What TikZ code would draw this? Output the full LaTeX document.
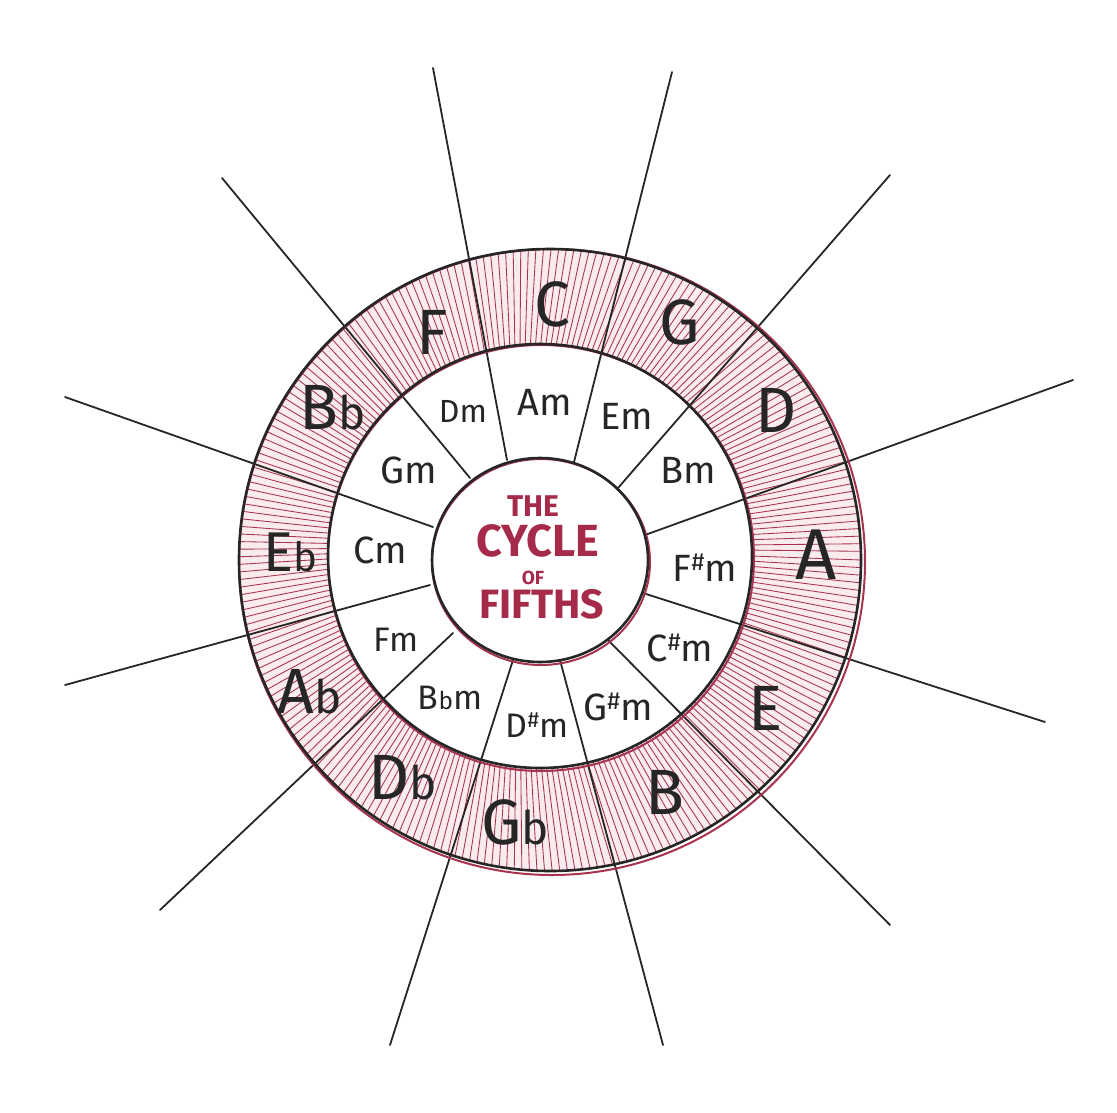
\documentclass[tikz,border=0pt]{standalone}
\usepackage{fontspec}
\setmainfont{Fira Sans}
\definecolor{hatch}{HTML}{A8334F}
\definecolor{ink}{HTML}{262626}
\definecolor{titlered}{HTML}{A62A4A}
\definecolor{ringbg}{HTML}{F9EBEE}
\newcommand\myflat{\scalebox{0.72}{b}}
\newcommand\mysharp{\raisebox{0.28em}{\scalebox{0.65}{\#}}}
\tikzset{
  outerlbl/.style={font=\fontsize{64}{64}\selectfont, text=ink, inner sep=0pt},
  innerlbl/.style={font=\fontsize{38}{38}\selectfont, text=ink, inner sep=0pt},
  titlelbl/.style={text=titlered, inner sep=0pt},
  spoke/.style={draw=ink, line width=1.8pt, line cap=round},
  ringline/.style={draw=ink, line width=2.6pt},
  ringred/.style={draw=hatch, line width=2pt},
}
\begin{document}
\begin{tikzpicture}[x=1pt,y=-1pt]
\useasboundingbox (0,0) rectangle (1117,1112);
% ring background
\fill[ringbg,even odd rule] (550,560) circle (311) (540,556) circle (212);
% hatching
\foreach \a in {0,1.4,...,359.5} {
  \draw[hatch, line width=0.85pt] ([shift={(540,556)}]\a:212) -- ([shift={(550,560)}]\a:311);
}
% spokes: inner ends and outer ends
\coordinate (i1) at (507,460);  \coordinate (o1) at (433,68);
\coordinate (i2) at (572,470);  \coordinate (o2) at (672,72);
\coordinate (i3) at (618,488);  \coordinate (o3) at (890,175);
\coordinate (i4) at (645,535);  \coordinate (o4) at (1073,380);
\coordinate (i5) at (643,593);  \coordinate (o5) at (1045,722);
\coordinate (i6) at (608,640);  \coordinate (o6) at (890,925);
\coordinate (i7) at (560,660);  \coordinate (o7) at (663,1045);
\coordinate (i8) at (513,660);  \coordinate (o8) at (390,1045);
\coordinate (i9) at (453,633);  \coordinate (o9) at (160,910);
\coordinate (i10) at (430,585); \coordinate (o10) at (65,685);
\coordinate (i11) at (433,527); \coordinate (o11) at (65,397);
\coordinate (i12) at (470,478); \coordinate (o12) at (222,178);
\foreach \k in {1,...,12} { \draw[spoke] (i\k) -- (o\k); }
% circles
\draw[ringred] (552,562) circle (313);
\draw[ringline] (550,560) circle (311);
\draw[ringred] (541,558) circle (213);
\draw[ringline] (540,556) circle (212);
\fill[white] (540,560) ellipse (108 and 102);
\draw[ringred] (541,562) ellipse (109 and 103);
\draw[ringline] (540,560) ellipse (108 and 102);
% outer labels
\node[outerlbl] (C) at (552,304) {C};
\node[outerlbl] (G) at (680,322) {G};
\node[outerlbl] (D) at (776,410) {D};
\node[outerlbl, font=\fontsize{72}{72}\selectfont] (A) at (816,555) {A};
\node[outerlbl] (E) at (766,708) {E};
\node[outerlbl] (B) at (665,792) {B};
\node[outerlbl] (Gb) at (515,822) {G\myflat};
\node[outerlbl] (Db) at (403,778) {D\myflat};
\node[outerlbl] (Ab) at (310,692) {A\myflat};
\node[outerlbl, font=\fontsize{56}{56}\selectfont] (Eb) at (290,552) {E\myflat};
\node[outerlbl] (Bb) at (333,408) {B\myflat};
\node[outerlbl] (F) at (432,332) {F};
% inner labels
\node[innerlbl] (Am) at (545,402) {Am};
\node[innerlbl] (Em) at (627,416) {Em};
\node[innerlbl] (Bm) at (688,470) {Bm};
\node[innerlbl] (Fsm) at (705,568) {F\mysharp m};
\node[innerlbl] (Csm) at (680,648) {C\mysharp m};
\node[innerlbl] (Gsm) at (618,707) {G\mysharp m};
\node[innerlbl, font=\fontsize{34}{34}\selectfont] (Dsm) at (537,725) {D\mysharp m};
\node[innerlbl, font=\fontsize{34}{34}\selectfont] (Bbm) at (450,698) {B\myflat m};
\node[innerlbl, font=\fontsize{34}{34}\selectfont] (Fm) at (396,640) {Fm};
\node[innerlbl] (Cm) at (380,550) {Cm};
\node[innerlbl] (Gm) at (409,470) {Gm};
\node[innerlbl, font=\fontsize{32}{32}\selectfont] (Dm) at (463,411) {Dm};
% title
\node[titlelbl, font=\fontsize{30}{30}\selectfont\bfseries] (t1) at (533,506) {THE};
\node[titlelbl, font=\fontsize{45}{45}\selectfont\bfseries] (t2) at (538,541) {CYCLE};
\node[titlelbl, font=\fontsize{19}{19}\selectfont\bfseries] (t3) at (533,578) {OF};
\node[titlelbl, font=\fontsize{41}{41}\selectfont\bfseries] (t4) at (542,604) {FIFTHS};
\end{tikzpicture}
\end{document}
